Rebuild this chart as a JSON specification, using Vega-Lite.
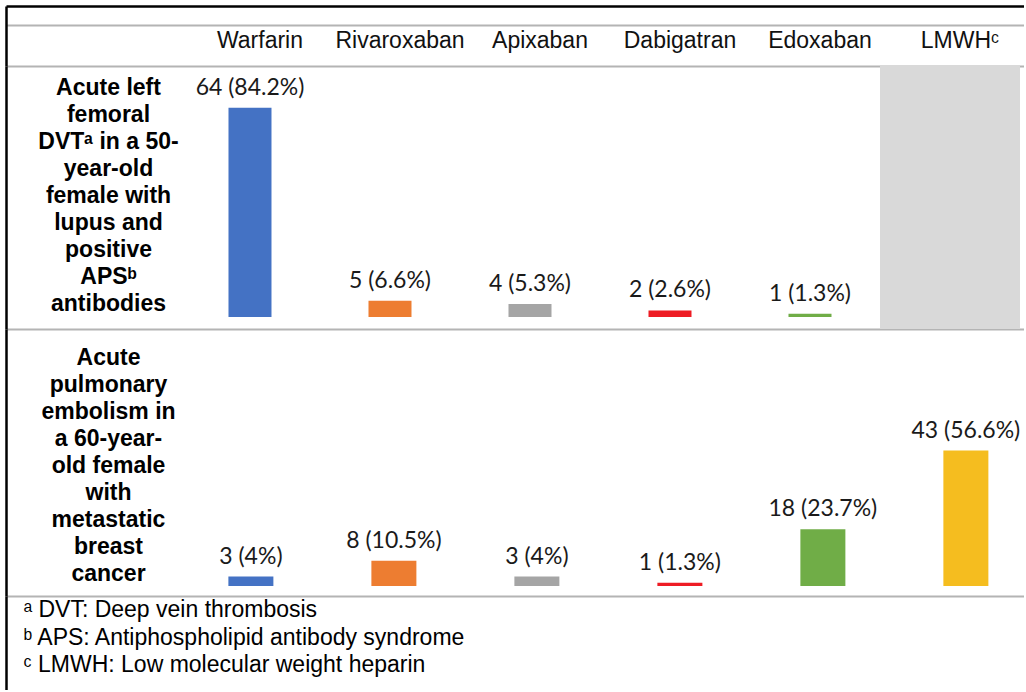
{
  "$schema": "https://vega.github.io/schema/vega-lite/v6.json",
  "padding": {"left": 6, "top": 6, "right": 0, "bottom": 0},
  "background": "white",
  "bounds": "flush",
  "spacing": 0,
  "config": {
    "view": {"stroke": null},
    "axis": {"domainColor": "#000000", "domainWidth": 2.5, "ticks": false, "labels": false, "gridColor": "#b4b4b4", "gridWidth": 2, "gridOpacity": 1}
  },
  "datasets": {
    "drugs": [
      {"drug": "Warfarin", "header": "Warfarin"},
      {"drug": "Rivaroxaban", "header": "Rivaroxaban"},
      {"drug": "Apixaban", "header": "Apixaban"},
      {"drug": "Dabigatran", "header": "Dabigatran"},
      {"drug": "Edoxaban", "header": "Edoxaban"},
      {"drug": "LMWH", "header": "LMWHᶜ"}
    ],
    "dvt": [
      {"drug": "Warfarin", "patients": 64, "label": "64 (84.2%)", "applicable": true},
      {"drug": "Rivaroxaban", "patients": 5, "label": "5 (6.6%)", "applicable": true},
      {"drug": "Apixaban", "patients": 4, "label": "4 (5.3%)", "applicable": true},
      {"drug": "Dabigatran", "patients": 2, "label": "2 (2.6%)", "applicable": true},
      {"drug": "Edoxaban", "patients": 1, "label": "1 (1.3%)", "applicable": true},
      {"drug": "LMWH", "patients": null, "label": "", "applicable": false}
    ],
    "pe": [
      {"drug": "Warfarin", "patients": 3, "label": "3 (4%)"},
      {"drug": "Rivaroxaban", "patients": 8, "label": "8 (10.5%)"},
      {"drug": "Apixaban", "patients": 3, "label": "3 (4%)"},
      {"drug": "Dabigatran", "patients": 1, "label": "1 (1.3%)"},
      {"drug": "Edoxaban", "patients": 18, "label": "18 (23.7%)"},
      {"drug": "LMWH", "patients": 43, "label": "43 (56.6%)"}
    ],
    "notes": [
      {"note": "ᵃ DVT: Deep vein thrombosis"},
      {"note": "ᵇ APS: Antiphospholipid antibody syndrome"},
      {"note": "ᶜ LMWH: Low molecular weight heparin"}
    ]
  },
  "vconcat": [
    {
      "width": 1018,
      "height": 60,
      "data": {"name": "drugs"},
      "mark": {"type": "text", "font": "Liberation Sans", "fontSize": 23, "color": "#111111", "baseline": "middle", "dx": 10},
      "encoding": {
        "x": {"field": "drug", "type": "nominal",
          "scale": {"type": "band", "domain": ["Warfarin", "Rivaroxaban", "Apixaban", "Dabigatran", "Edoxaban", "LMWH"], "paddingInner": 0, "paddingOuter": 0.6357, "align": 0.9775},
          "axis": {"orient": "top", "grid": false, "title": null, "labels": false, "ticks": false, "domainColor": "#000000", "domainWidth": 2.5}},
        "y": {"datum": 0.417, "type": "quantitative",
          "scale": {"domain": [0, 1], "nice": false, "zero": false},
          "axis": {"values": [0, 0.683], "grid": true, "labels": false, "ticks": false, "title": null}},
        "text": {"field": "header"}
      }
    },
    {
      "width": 1018,
      "height": 263,
      "data": {"name": "dvt"},
      "encoding": {
        "x": {"field": "drug", "type": "nominal",
          "scale": {"type": "band", "domain": ["Warfarin", "Rivaroxaban", "Apixaban", "Dabigatran", "Edoxaban", "LMWH"], "paddingInner": 0, "paddingOuter": 0.6357, "align": 0.9775},
          "axis": null}
      },
      "layer": [
        {
          "transform": [{"filter": "datum.applicable == false"}],
          "mark": {"type": "rect", "color": "#d9d9d9"},
          "encoding": {}
        },
        {
          "mark": {"type": "bar", "width": 43},
          "encoding": {
            "y": {"field": "patients", "type": "quantitative",
              "scale": {"domain": [-3.67, 76.76], "nice": false, "zero": false},
              "axis": {"values": [-3.67], "grid": true, "labels": false, "ticks": false,
                "title": ["Acute left", "femoral", "DVTᵃ in a 50-", "year-old", "female with", "lupus and", "positive", "APSᵇ", "antibodies"],
                "titleAngle": 0, "titleAlign": "center", "titleBaseline": "middle", "titleX": 102, "titleY": 21.5,
                "titleFont": "Liberation Sans", "titleFontSize": 23, "titleFontWeight": "bold", "titleLineHeight": 27, "titleColor": "#000000"}},
            "color": {"field": "drug", "type": "nominal",
              "scale": {"domain": ["Warfarin", "Rivaroxaban", "Apixaban", "Dabigatran", "Edoxaban", "LMWH"], "range": ["#4472c4", "#ed7d31", "#a5a5a5", "#ee1c24", "#70ad47", "#f5bd1f"]},
              "legend": null}
          }
        },
        {
          "mark": {"type": "text", "font": "Lato", "fontSize": 23, "color": "#1a1a1a", "baseline": "alphabetic", "dy": -13},
          "encoding": {
            "y": {"field": "patients", "type": "quantitative",
              "scale": {"domain": [-3.67, 76.76], "nice": false, "zero": false},
              "axis": {"values": [-3.67], "grid": true, "labels": false, "ticks": false,
                "title": ["Acute left", "femoral", "DVTᵃ in a 50-", "year-old", "female with", "lupus and", "positive", "APSᵇ", "antibodies"],
                "titleAngle": 0, "titleAlign": "center", "titleBaseline": "middle", "titleX": 102, "titleY": 21.5,
                "titleFont": "Liberation Sans", "titleFontSize": 23, "titleFontWeight": "bold", "titleLineHeight": 27, "titleColor": "#000000"}},
            "text": {"field": "label"}
          }
        }
      ]
    },
    {
      "width": 1018,
      "height": 267,
      "data": {"name": "pe"},
      "encoding": {
        "x": {"field": "drug", "type": "nominal",
          "scale": {"type": "band", "domain": ["Warfarin", "Rivaroxaban", "Apixaban", "Dabigatran", "Edoxaban", "LMWH"], "paddingInner": 0.7, "paddingOuter": 0.9095, "align": 0.859},
          "axis": null}
      },
      "layer": [
        {
          "mark": {"type": "bar", "width": 45},
          "encoding": {
            "y": {"field": "patients", "type": "quantitative",
              "scale": {"domain": [-3.17, 81.59], "nice": false, "zero": false},
              "axis": {"values": [-3.17], "grid": true, "labels": false, "ticks": false,
                "title": ["Acute", "pulmonary", "embolism in", "a 60-year-", "old female", "with", "metastatic", "breast", "cancer"],
                "titleAngle": 0, "titleAlign": "center", "titleBaseline": "middle", "titleX": 102, "titleY": 28,
                "titleFont": "Liberation Sans", "titleFontSize": 23, "titleFontWeight": "bold", "titleLineHeight": 27, "titleColor": "#000000"}},
            "color": {"field": "drug", "type": "nominal",
              "scale": {"domain": ["Warfarin", "Rivaroxaban", "Apixaban", "Dabigatran", "Edoxaban", "LMWH"], "range": ["#4472c4", "#ed7d31", "#a5a5a5", "#ee1c24", "#70ad47", "#f5bd1f"]},
              "legend": null}
          }
        },
        {
          "mark": {"type": "text", "font": "Lato", "fontSize": 23, "color": "#1a1a1a", "baseline": "alphabetic", "dy": -13},
          "encoding": {
            "y": {"field": "patients", "type": "quantitative",
              "scale": {"domain": [-3.17, 81.59], "nice": false, "zero": false},
              "axis": {"values": [-3.17], "grid": true, "labels": false, "ticks": false,
                "title": ["Acute", "pulmonary", "embolism in", "a 60-year-", "old female", "with", "metastatic", "breast", "cancer"],
                "titleAngle": 0, "titleAlign": "center", "titleBaseline": "middle", "titleX": 102, "titleY": 28,
                "titleFont": "Liberation Sans", "titleFontSize": 23, "titleFontWeight": "bold", "titleLineHeight": 27, "titleColor": "#000000"}},
            "text": {"field": "label"}
          }
        }
      ]
    },
    {
      "width": 1018,
      "height": 94,
      "data": {"name": "notes"},
      "mark": {"type": "point", "opacity": 0},
      "encoding": {
        "y": {"field": "note", "type": "nominal",
          "scale": {"type": "point", "domain": ["ᵃ DVT: Deep vein thrombosis", "ᵇ APS: Antiphospholipid antibody syndrome", "ᶜ LMWH: Low molecular weight heparin"], "padding": 0.74, "align": 0.35},
          "axis": {"labels": true, "labelAlign": "left", "labelBaseline": "middle", "labelPadding": -17, "labelFont": "Liberation Sans", "labelFontSize": 23, "labelColor": "#000000", "labelLimit": 0, "labelOverlap": false, "ticks": false, "grid": false, "title": null}}
      }
    }
  ]
}
